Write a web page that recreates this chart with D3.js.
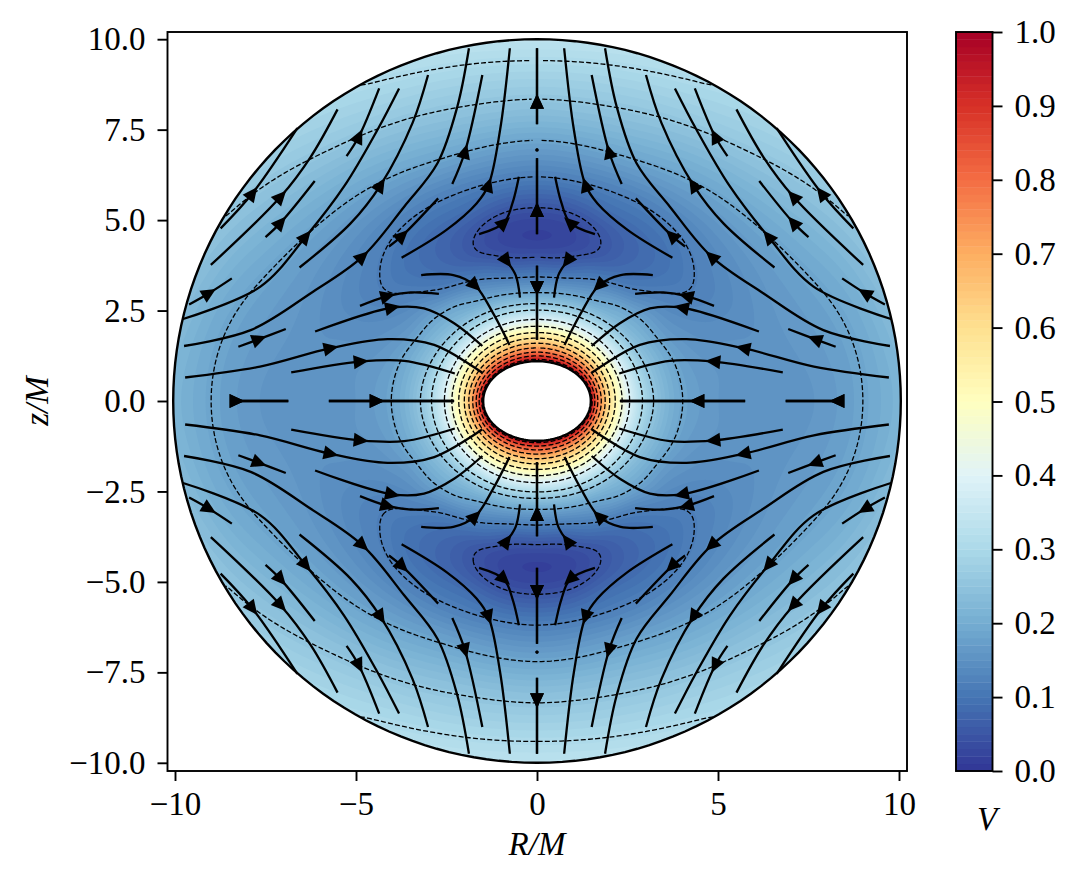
<!DOCTYPE html>
<html>
<head>
<meta charset="utf-8">
<script src="https://cdn.jsdelivr.net/npm/d3@7"></script>
<style>
body { margin: 0; background: #fff; }
text { font-family: "Liberation Serif", serif; fill: #000; }
</style>
</head>
<body>
<div id="chart"></div>
<script>
// V, on spheroidal coordinates (r, theta), one quadrant
var rGrid = [1.1, 1.2, 1.35, 1.5, 1.7, 1.9, 2.1, 2.3, 2.5, 2.7, 3, 3.4, 3.9, 4.4, 5, 5.6, 6.2, 7, 8, 9, 10];
var thetaGrid = [0, 10, 20, 30, 40, 50, 60, 70, 80, 90];
var v0  = [1, .89, .796, .71, .61, .521, .444, .373, .308, .251, .183, .122, .057, .02, .028, .07, .118, .172, .236, .285, .335];
var v10 = [1, .89, .796, .71, .61, .522, .445, .376, .312, .254, .19, .125, .059, .026, .031, .074, .121, .175, .237, .283, .33];
var v20 = [1, .89, .796, .71, .61, .525, .448, .381, .319, .263, .2, .142, .088, .047, .054, .091, .122, .176, .232, .277, .32];
var v30 = [1, .89, .796, .71, .61, .527, .451, .385, .324, .271, .21, .163, .107, .077, .074, .093, .122, .169, .22, .268, .305];
var v40 = [1, .89, .796, .71, .61, .527, .453, .389, .332, .281, .224, .188, .127, .098, .091, .102, .126, .163, .208, .254, .29];
var v50 = [1, .89, .796, .71, .61, .528, .457, .392, .338, .289, .233, .2, .159, .127, .111, .119, .134, .161, .197, .236, .273];
var v60 = [1, .89, .796, .71, .61, .528, .46, .396, .342, .297, .243, .205, .165, .145, .133, .131, .141, .16, .186, .218, .254];
var v70 = [1, .89, .796, .71, .61, .529, .463, .399, .347, .304, .251, .213, .179, .159, .149, .148, .149, .161, .176, .2, .24];
var v80 = [1, .89, .796, .71, .61, .529, .465, .402, .351, .309, .258, .217, .184, .168, .16, .155, .154, .158, .17, .19, .225];
var v90 = [1, .89, .796, .71, .61, .529, .467, .403, .353, .312, .262, .22, .186, .17, .158, .152, .15, .153, .165, .187, .215];
var columns = [v0, v10, v20, v30, v40, v50, v60, v70, v80, v90];

var fillLevels = d3.range(0, 100).map(function(d) { return d / 100; });
var lineLevels = [.05, .118, .186, .254, .305, .389, .457, .525, .593, .661, .729, .796, .864, .932];
var holeR = 1.1, edgeR = 10;

// streamlines of the upper left quadrant, in flow order (R, z); the others are mirrored
var streamLines = [
    [[-9.72, .65], [-7.65, .95], [-5.70, 1.46], [-4.13, 1.71], [-2.84, 1.55], [-1.51, .78]],
    [[-6.79, .79], [-4.87, 1.09], [-3.67, 1.11], [-2.27, .76]],
    [[-8.25, 1.50], [-7.68, 1.71], [-6.94, 1.99]],
    [[-6.13, 1.92], [-4.0, 2.58], [-3.12, 2.56], [-2.29, 2.15], [-1.51, 1.52]],
    [[-4.89, 2.63], [-4.13, 2.9], [-3.49, 3.0], [-2.71, 2.96]],
    [[-3.2, 3.48], [-2.31, 3.48], [-1.71, 3.19], [-1.21, 2.42], [-.76, 1.55]],
    [[-.96, 3.99], [-.84, 3.87], [-.59, 3.48], [-.47, 2.86]],
    [[-1.60, 4.61], [-.91, 4.93], [-.68, 5.46], [-.50, 6.2]],
    [[-3.74, 3.96], [-2.5, 4.73], [-1.67, 5.46], [-1.34, 5.97], [-1.02, 7.49], [-.75, 9.75]],
    [[-2.34, 6.0], [-1.99, 6.89], [-1.51, 9.01]],
    [[-9.75, 1.52], [-7.91, 1.96], [-6.25, 2.98], [-4.82, 3.99], [-3.67, 5.37], [-2.75, 6.57], [-2.2, 8.14], [-1.88, 9.75]],
    [[-6.56, 3.69], [-5.15, 4.91], [-4.32, 5.97], [-3.44, 7.68], [-3.01, 9.01]],
    [[-4.09, 4.27], [-3.72, 4.57], [-2.73, 5.6]],
    [[-9.8, 2.26], [-7.64, 3.16], [-6.39, 4.54], [-5.33, 5.93], [-4.41, 7.49], [-3.81, 8.64]],
    [[-5.26, 6.77], [-4.92, 7.31], [-4.36, 8.64]],
    [[-9.01, 3.76], [-7.08, 5.65], [-6.25, 6.75], [-5.51, 8.06]],
    [[-7.5, 4.53], [-7.08, 4.93], [-6.14, 6.08]],
    [[-8.74, 4.77], [-7.86, 5.74], [-6.62, 7.54]],
    [[-9.61, 2.67], [-9.06, 2.98], [-8.43, 3.39]],
    [[-8.46, 0], [-8.30, 0], [-6.87, 0]],
    [[-5.75, 0], [-4.43, 0], [-2.29, 0]],
    [[0, 7.65], [0, 8.27], [0, 9.75]],
    [[0, 4.61], [0, 5.28], [0, 6.71]],
    [[0, 3.74], [0, 3.12], [0, 1.69]]
];
var arrowAt = [2, 1, 1, 1, 1, 2, 1, 1, 3, 1, 3, 2, 1, 2, 1, 1, 1, 1, 1, 1, 1, 1, 1, 1];
var axisDots = [6.94];

var xTicks = [-10, -5, 0, 5, 10];
var yTicks = [-10, -7.5, -5, -2.5, 0, 2.5, 5, 7.5, 10];
var barTicks = [0, .1, .2, .3, .4, .5, .6, .7, .8, .9, 1];

var box = {left: 167.5, right: 907, top: 32, bottom: 771};
var bar = {left: 956, right: 992.5, top: 32, bottom: 771};

var svg = d3.select("#chart")
    .append("svg")
    .attr("width", 1074)
    .attr("height", 884);

var xScale = d3.scaleLinear().domain([-10, 10]).range([175, 899]);
var yScale = d3.scaleLinear().domain([-10, 10]).range([762.8, 39.2]);
var barScale = d3.scaleLinear().domain([0, 1]).range([bar.bottom, bar.top]);

// same knots as matplotlib RdYlBu_r
var colorScale = d3.scaleLinear()
    .domain(d3.range(11).map(function(d) { return d / 10; }))
    .range(d3.schemeRdYlBu[11].slice().reverse());

// cubic through the table values, along one coordinate
function hermite(xs, ys, x, flatEnds) {
    var n = xs.length;
    var i = Math.max(0, Math.min(n - 2, d3.bisectRight(xs, x) - 1));
    function slope(k) {
        if (k === 0) return flatEnds ? 0 : (ys[1] - ys[0]) / (xs[1] - xs[0]);
        if (k === n - 1) return flatEnds ? 0 : (ys[n - 1] - ys[n - 2]) / (xs[n - 1] - xs[n - 2]);
        return (ys[k + 1] - ys[k - 1]) / (xs[k + 1] - xs[k - 1]);
    }
    var h = xs[i + 1] - xs[i], t = (x - xs[i]) / h;
    var t2 = t * t, t3 = t2 * t;
    return (2 * t3 - 3 * t2 + 1) * ys[i] + (t3 - 2 * t2 + t) * h * slope(i)
        + (-2 * t3 + 3 * t2) * ys[i + 1] + (t3 - t2) * h * slope(i + 1);
}

var nr = 298, nth = 361;
function rAt(i) { return holeR + (edgeR - holeR) * i / (nr - 1); }
function thAt(j) { return j * 360 / (nth - 1); }
function foldTheta(t) {
    t = t % 180;
    return t > 90 ? 180 - t : t;
}

var field = new Float64Array(nr * nth);
for (var i = 0; i < nr; i++) {
    var r = rAt(i);
    var col = columns.map(function(c) { return hermite(rGrid, c, r, false); });
    for (var j = 0; j < nth; j++) {
        field[j * nr + i] = hermite(thetaGrid, col, foldTheta(thAt(j)), true);
    }
}
// take the corners of the coarse table out of the bands
if (d3.blur2) d3.blur2({data: field, width: nr}, 2, 3);

// spheroidal (r, theta) to pixels
function toPixel(r, th) {
    var a = th * Math.PI / 180;
    return [xScale(Math.sqrt(r * r + 1) * Math.sin(a)), yScale(r * Math.cos(a))];
}
function gridToPixel(p) {
    var gi = Math.max(0, Math.min(nr - 1, p[0] - .5));
    var gj = Math.max(0, Math.min(nth - 1, p[1] - .5));
    return toPixel(rAt(gi), thAt(gj));
}
function ringPath(ring) {
    return "M" + ring.map(function(p) {
        var q = gridToPixel(p);
        return q[0].toFixed(2) + "," + q[1].toFixed(2);
    }).join("L") + "Z";
}

var contours = d3.contours().size([nr, nth]);

// filled bands, painted from low to high
var bands = svg.append("g").attr("class", "bands");
fillLevels.forEach(function(level) {
    var shape = contours.contour(field, level);
    var d = "";
    shape.coordinates.forEach(function(poly) {
        poly.forEach(function(ring) { d += ringPath(ring); });
    });
    if (!d) return;
    bands.append("path")
        .attr("d", d)
        .attr("fill-rule", "evenodd")
        .attr("fill", colorScale(level + .005));
});

// dashed contours: cut the rings where they run along the edge of the grid
function insideGrid(p) {
    return p[0] > .5 && p[0] < nr - .5 && p[1] > .5 && p[1] < nth - .5;
}
var lineGroup = svg.append("g").attr("class", "contour-lines");
var plain = d3.line();
lineLevels.forEach(function(level) {
    var shape = contours.contour(field, level);
    shape.coordinates.forEach(function(poly) {
        poly.forEach(function(ring) {
            var start = ring.findIndex(function(p) { return !insideGrid(p); });
            var d = "";
            if (start < 0) {
                d = plain(ring.map(gridToPixel)) + "Z";
            } else {
                var piece = [];
                for (var k = 1; k <= ring.length; k++) {
                    var p = ring[(start + k) % ring.length];
                    if (insideGrid(p)) {
                        piece.push(gridToPixel(p));
                    } else {
                        if (piece.length > 1) d += plain(piece);
                        piece = [];
                    }
                }
            }
            if (!d) return;
            lineGroup.append("path")
                .attr("d", d)
                .attr("fill", "none")
                .attr("stroke", "#000")
                .attr("stroke-width", 1.3)
                .attr("stroke-dasharray", "5,2.2");
        });
    });
});

// streamlines with their arrow heads
var streamGroup = svg.append("g").attr("class", "streamlines");
var mirrors = [[1, 1], [-1, 1], [1, -1], [-1, -1]];
mirrors.forEach(function(m) {
    var streamPath = d3.line()
        .x(function(d) { return xScale(m[0] * d[0]); })
        .y(function(d) { return yScale(m[1] * d[1]); })
        .curve(d3.curveCatmullRom.alpha(.5));

    streamLines.forEach(function(line, n) {
        streamGroup.append("path")
            .attr("d", streamPath(line))
            .attr("fill", "none")
            .attr("stroke", "#000")
            .attr("stroke-width", 2.3);

        var k = arrowAt[n];
        var a = line[k - 1], b = line[k + 1], c = line[k];
        var angle = Math.atan2(yScale(m[1] * b[1]) - yScale(m[1] * a[1]),
            xScale(m[0] * b[0]) - xScale(m[0] * a[0])) * 180 / Math.PI;
        streamGroup.append("path")
            .attr("d", "M8,0L-7,-7L-7,7Z")
            .attr("fill", "#000")
            .attr("transform", "translate(" + xScale(m[0] * c[0]) + "," + yScale(m[1] * c[1]) + ") rotate(" + angle + ")");
    });

    axisDots.forEach(function(z) {
        streamGroup.append("circle")
            .attr("cx", xScale(0))
            .attr("cy", yScale(m[1] * z))
            .attr("r", 1.6)
            .attr("fill", "#000");
    });
});

// hole and outer edge
var angles = d3.range(0, 361, 2);
var ringLine = d3.line();
[holeR, edgeR].forEach(function(r) {
    svg.append("path")
        .attr("d", ringLine(angles.map(function(t) { return toPixel(r, t); })) + "Z")
        .attr("fill", r === holeR ? "#fff" : "none")
        .attr("stroke", "#000")
        .attr("stroke-width", 2.4);
});

// axes
function styleAxis(g) {
    g.select(".domain").remove();
    g.selectAll("line").attr("stroke", "#000").attr("stroke-width", 1.9);
    g.selectAll("text").attr("font-size", "33px").attr("font-family", '"Liberation Serif", serif');
}

var xAxis = d3.axisBottom(xScale).tickValues(xTicks).tickSize(10).tickPadding(11).tickFormat(d3.format("d"));
var yAxis = d3.axisLeft(yScale).tickValues(yTicks).tickSize(10).tickPadding(12).tickFormat(d3.format(".1f"));
var barAxis = d3.axisRight(barScale).tickValues(barTicks).tickSize(10).tickPadding(12).tickFormat(d3.format(".1f"));

svg.append("g").attr("transform", "translate(0," + box.bottom + ")").call(xAxis).call(styleAxis);
svg.append("g").attr("transform", "translate(" + box.left + ",0)").call(yAxis).call(styleAxis);

svg.append("rect")
    .attr("x", box.left)
    .attr("y", box.top)
    .attr("width", box.right - box.left)
    .attr("height", box.bottom - box.top)
    .attr("fill", "none")
    .attr("stroke", "#000")
    .attr("stroke-width", 1.9);

// colorbar
svg.append("g").selectAll("rect")
    .data(fillLevels)
    .enter().append("rect")
    .attr("x", bar.left)
    .attr("width", bar.right - bar.left)
    .attr("y", function(d) { return barScale(d + .01); })
    .attr("height", function(d) { return barScale(d) - barScale(d + .01) + .4; })
    .attr("fill", function(d) { return colorScale(d + .005); });

svg.append("rect")
    .attr("x", bar.left)
    .attr("y", bar.top)
    .attr("width", bar.right - bar.left)
    .attr("height", bar.bottom - bar.top)
    .attr("fill", "none")
    .attr("stroke", "#000")
    .attr("stroke-width", 1.9);

svg.append("g").attr("transform", "translate(" + bar.right + ",0)").call(barAxis).call(styleAxis);

// labels
svg.append("text")
    .attr("x", 537)
    .attr("y", 855)
    .style("text-anchor", "middle")
    .attr("font-size", "33px")
    .attr("font-style", "italic")
    .text("R/M");

svg.append("text")
    .attr("transform", "translate(48,401) rotate(-90)")
    .style("text-anchor", "middle")
    .attr("font-size", "33px")
    .attr("font-style", "italic")
    .text("z/M");

svg.append("text")
    .attr("x", 987)
    .attr("y", 830)
    .style("text-anchor", "middle")
    .attr("font-size", "33px")
    .attr("font-style", "italic")
    .text("V");
</script>
</body>
</html>
